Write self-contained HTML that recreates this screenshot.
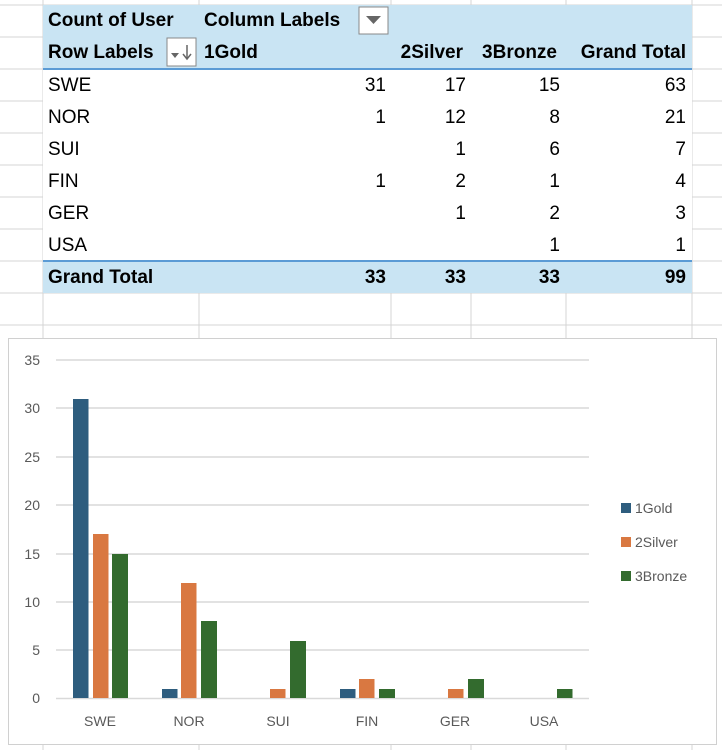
<!DOCTYPE html>
<html><head><meta charset="utf-8"><style>
body{margin:0;width:722px;height:750px;background:#fff;position:relative;overflow:hidden;font-family:"Liberation Sans Narrow","Liberation Sans",sans-serif;}
.a{position:absolute}
.t{position:absolute;font-size:19px;color:#000;line-height:32px;white-space:nowrap}
.b{font-weight:bold}
.r{text-align:right}
</style></head><body>
<svg class="a" style="left:0;top:0" width="722" height="750">
<g stroke="#d4d4d4" stroke-width="1">
<line x1="0" y1="5" x2="722" y2="5"/><line x1="0" y1="37" x2="722" y2="37"/><line x1="0" y1="69" x2="722" y2="69"/><line x1="0" y1="101" x2="722" y2="101"/><line x1="0" y1="133" x2="722" y2="133"/><line x1="0" y1="165" x2="722" y2="165"/><line x1="0" y1="197" x2="722" y2="197"/><line x1="0" y1="229" x2="722" y2="229"/><line x1="0" y1="261" x2="722" y2="261"/><line x1="0" y1="293" x2="722" y2="293"/><line x1="0" y1="325" x2="722" y2="325"/>
<line x1="43" y1="0" x2="43" y2="750"/><line x1="199" y1="0" x2="199" y2="750"/><line x1="391" y1="0" x2="391" y2="750"/><line x1="471" y1="0" x2="471" y2="750"/><line x1="566" y1="0" x2="566" y2="750"/><line x1="692" y1="0" x2="692" y2="750"/>
</g>
<rect x="43" y="5" width="649" height="64" fill="#c9e4f3"/>
<rect x="43" y="69" width="649" height="192" fill="#fff"/>
<rect x="43" y="261" width="649" height="32" fill="#c9e4f3"/>
<line x1="43" y1="69" x2="692" y2="69" stroke="#5b9bd5" stroke-width="2"/>
<line x1="43" y1="261" x2="692" y2="261" stroke="#5b9bd5" stroke-width="2"/>
<rect x="359" y="7" width="29" height="27" fill="#fff" stroke="#888" stroke-width="1"/>
<polygon points="366,16 381,16 373.5,24" fill="#666"/>
<rect x="167" y="38" width="29" height="28" fill="#fff" stroke="#888" stroke-width="1"/>
<polygon points="171,53 179,53 175,58" fill="#666"/>
<line x1="187" y1="45" x2="187" y2="58" stroke="#666" stroke-width="1.5"/><polyline points="183,54 187,59 191,54" fill="none" stroke="#666" stroke-width="1.5"/>
<rect x="8.5" y="338.5" width="708" height="406" fill="#fff" stroke="#d0d0d0"/>
<g stroke="#d9d9d9" stroke-width="1.5">
<line x1="56" y1="360" x2="589" y2="360"/><line x1="56" y1="408" x2="589" y2="408"/><line x1="56" y1="457" x2="589" y2="457"/><line x1="56" y1="505" x2="589" y2="505"/><line x1="56" y1="554" x2="589" y2="554"/><line x1="56" y1="602" x2="589" y2="602"/><line x1="56" y1="650" x2="589" y2="650"/><line x1="56" y1="698.5" x2="589" y2="698.5"/>
</g>
<g font-family="Liberation Sans,sans-serif" font-size="14" fill="#595959" text-anchor="end">
<text x="40" y="365">35</text><text x="40" y="413">30</text><text x="40" y="462">25</text><text x="40" y="510">20</text><text x="40" y="559">15</text><text x="40" y="607">10</text><text x="40" y="655">5</text><text x="40" y="703">0</text>
</g>
<g font-family="Liberation Sans,sans-serif" font-size="14" fill="#595959" text-anchor="middle">
<text x="100" y="726">SWE</text><text x="189" y="726">NOR</text><text x="278" y="726">SUI</text><text x="367" y="726">FIN</text><text x="455" y="726">GER</text><text x="544" y="726">USA</text>
</g>
<g>
<rect x="73" y="399" width="15.5" height="299" fill="#2e5d7e"/>
<rect x="93" y="534" width="15.5" height="164" fill="#d97841"/>
<rect x="112" y="554" width="16" height="144" fill="#336b2e"/>
<rect x="162" y="689" width="15.5" height="9" fill="#2e5d7e"/>
<rect x="181" y="583" width="15.5" height="115" fill="#d97841"/>
<rect x="201" y="621" width="16" height="77" fill="#336b2e"/>
<rect x="270" y="689" width="15.5" height="9" fill="#d97841"/>
<rect x="290" y="641" width="16" height="57" fill="#336b2e"/>
<rect x="340" y="689" width="15.5" height="9" fill="#2e5d7e"/>
<rect x="359" y="679" width="15.5" height="19" fill="#d97841"/>
<rect x="379" y="689" width="16" height="9" fill="#336b2e"/>
<rect x="448" y="689" width="15.5" height="9" fill="#d97841"/>
<rect x="468" y="679" width="16" height="19" fill="#336b2e"/>
<rect x="557" y="689" width="15.5" height="9" fill="#336b2e"/>
</g>
<rect x="621" y="503" width="10" height="10" fill="#2e5d7e"/>
<rect x="621" y="537" width="10" height="10" fill="#d97841"/>
<rect x="621" y="571" width="10" height="10" fill="#336b2e"/>
<g font-family="Liberation Sans,sans-serif" font-size="14" fill="#595959">
<text x="635" y="513">1Gold</text><text x="635" y="547">2Silver</text><text x="635" y="581">3Bronze</text>
</g>
</svg>
<div class="t b" style="left:48px;top:5px">Count of User</div>
<div class="t b" style="left:204px;top:5px">Column Labels</div>
<div class="t b" style="left:48px;top:37px">Row Labels</div>
<div class="t b" style="left:204px;top:37px">1Gold</div>
<div class="t b r" style="left:391px;top:37px;width:72px">2Silver</div>
<div class="t b r" style="left:471px;top:37px;width:86px">3Bronze</div>
<div class="t b r" style="left:566px;top:37px;width:120px">Grand Total</div>

<div class="t" style="left:48px;top:70px">SWE</div>
<div class="t" style="left:48px;top:102px">NOR</div>
<div class="t" style="left:48px;top:134px">SUI</div>
<div class="t" style="left:48px;top:166px">FIN</div>
<div class="t" style="left:48px;top:198px">GER</div>
<div class="t" style="left:48px;top:230px">USA</div>
<div class="t b" style="left:48px;top:262px">Grand Total</div>

<div class="t r" style="left:300px;top:70px;width:86px">31<br>1<br>&nbsp;<br>1<br>&nbsp;<br>&nbsp;<br><b>33</b></div>
<div class="t r" style="left:380px;top:70px;width:86px">17<br>12<br>1<br>2<br>1<br>&nbsp;<br><b>33</b></div>
<div class="t r" style="left:470px;top:70px;width:90px">15<br>8<br>6<br>1<br>2<br>1<br><b>33</b></div>
<div class="t r" style="left:566px;top:70px;width:120px">63<br>21<br>7<br>4<br>3<br>1<br><b>99</b></div>
</body></html>
